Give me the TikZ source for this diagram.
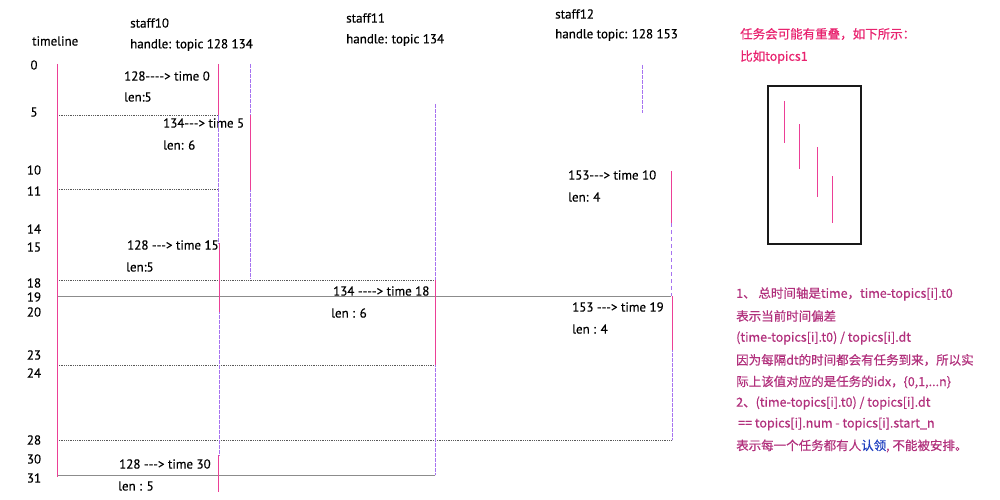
\documentclass[tikz,border=0pt]{standalone}
\usepackage{fontspec}
\setmainfont{PT Sans}[Ligatures=TeXOff,FakeBold=0.4]
\newfontfamily\cjk{Noto Sans CJK SC}[FakeBold=0.5]
\usetikzlibrary{positioning}
\definecolor{taskpink}{HTML}{EC3F96}
\definecolor{idlepurple}{HTML}{A673F0}
\definecolor{notered}{HTML}{E8236F}
\definecolor{noteplum}{HTML}{B1307C}
\definecolor{noteblue}{HTML}{2040C0}

\begin{document}
\begin{tikzpicture}[x=1pt,y=-1pt,font=\fontsize{13}{15}\selectfont,
  lbl/.style={anchor=west,inner sep=0pt},
  tick/.style={inner sep=0pt},
  busy/.style={taskpink,line width=0.9pt},
  idle/.style={idlepurple,line width=0.9pt,dash pattern=on 2pt off 0.5pt},
  gapline/.style={idlepurple,line width=0.9pt,dash pattern=on 4pt off 3pt},
  gridline/.style={black!65,line width=0.7pt,dash pattern=on 1pt off 0.8pt},
  solidline/.style={black!45,line width=0.9pt},
  note/.style={anchor=west,inner sep=0pt,font=\cjk\fontsize{12.5}{14}\selectfont}]
  \useasboundingbox (0,0) rectangle (1000,500);

  % headers
  \node[lbl] (tl) at (32,41) {timeline};
  \node[lbl] (s10) at (130,23) {staff10};
  \node[lbl] (h10) at (130,45) {handle: topic 128 134};
  \node[lbl] (s11) at (346,18) {staff11};
  \node[lbl] (h11) at (346,40) {handle: topic 134};
  \node[lbl] (s12) at (555,14) {staff12};
  \node[lbl] (h12) at (555,35) {handle topic: 128 153};

  % time ticks
  \foreach \t/\y in {0/65,5/112,10/170,11/191,14/229,15/247,18/283,19/297,20/312,23/355,24/373,28/440,30/459,31/478}
    \node[tick] (t\t) at (34,\y) {\t};

  % task labels
  \node[lbl] (a1) at (124,76) {128----> time 0};
  \node[lbl] (a1l) at (124,97) {len:5};
  \node[lbl] (b1) at (163,123) {134---> time 5};
  \node[lbl] (b1l) at (163,145) {len: 6};
  \node[lbl] (a2) at (127,245) {128 ---> time 15};
  \node[lbl] (a2l) at (126,267) {len:5};
  \node[lbl] (b2) at (333,291) {134 ----> time 18};
  \node[lbl] (b2l) at (331,313) {len : 6};
  \node[lbl] (c1) at (568,175) {153---> time 10};
  \node[lbl] (c1l) at (568,197) {len: 4};
  \node[lbl] (c2) at (572,307) {153 ---> time 19};
  \node[lbl] (c2l) at (572,329) {len : 4};
  \node[lbl] (a3) at (119,464) {128 ---> time 30};
  \node[lbl] (a3l) at (118,486) {len : 5};

  % horizontal marks
  \draw[gridline] (57,115) -- (218,115);
  \draw[gridline] (57,189) -- (218,189);
  \draw[gridline] (57,280) -- (435,280);
  \draw[solidline] (57,296) -- (671,296);
  \draw[gridline] (57,365) -- (435,365);
  \draw[gridline] (57,440) -- (672,440);
  \draw[solidline] (57,475) -- (435,475);

  % timeline axis
  \draw[busy] (57,64) -- (57,477);

  % staff10
  \draw[busy] (218,64) -- (218,115);
  \draw[idle] (218,115) -- (218,243);
  \draw[busy] (219,243) -- (219,312);
  \draw[idle] (219,312) -- (219,455);
  \draw[busy] (218,455) -- (218,492);
  \draw[idle] (250,64) -- (250,115);
  \draw[busy] (250,115) -- (250,190);
  \draw[idle] (250,190) -- (250,278);

  % staff11
  \draw[idle] (435,104) -- (435,280);
  \draw[busy] (435,280) -- (435,365);
  \draw[idle] (435,365) -- (435,475);

  % staff12
  \draw[idle] (642,65) -- (642,113);
  \draw[busy] (671,171) -- (671,223);
  \draw[gapline] (671,223) -- (671,296);
  \draw[busy] (672,296) -- (672,350);
  \draw[idle] (672,350) -- (672,440);

  % overlap sketch
  \node[note,text=notered] (n1) at (740,34) {任务会可能有重叠，如下所示：};
  \node[note,text=notered] (n2) at (740,57) {比如topics1};
  \draw[line width=1.6pt,black!90] (768,86) rectangle (861,244);
  \draw[busy] (784,101) -- (784,143);
  \draw[busy] (799,124) -- (799,169);
  \draw[busy] (817,147) -- (817,197);
  \draw[busy] (832,176) -- (832,223);

  % notes
  \node[note,text=noteplum] (m1) at (736,294) {1、 总时间轴是time，time-topics[i].t0};
  \node[note,text=noteplum] (m2) at (736,316) {表示当前时间偏差};
  \node[note,text=noteplum] (m3) at (736,338) {(time-topics[i].t0) / topics[i].dt};
  \node[note,text=noteplum] (m4) at (736,360) {因为每隔dt的时间都会有任务到来，所以实};
  \node[note,text=noteplum] (m5) at (736,382) {际上该值对应的是任务的idx，\{0,1,...n\}};
  \node[note,text=noteplum] (m6) at (736,403) {2、(time-topics[i].t0) / topics[i].dt};
  \node[note,text=noteplum] (m7) at (738,424) {== topics[i].num - topics[i].start\_n};
  \node[note,text=noteplum] (m8) at (736,446) {表示每一个任务都有人{\color{noteblue}认领}, 不能被安排。};
\end{tikzpicture}
\end{document}
